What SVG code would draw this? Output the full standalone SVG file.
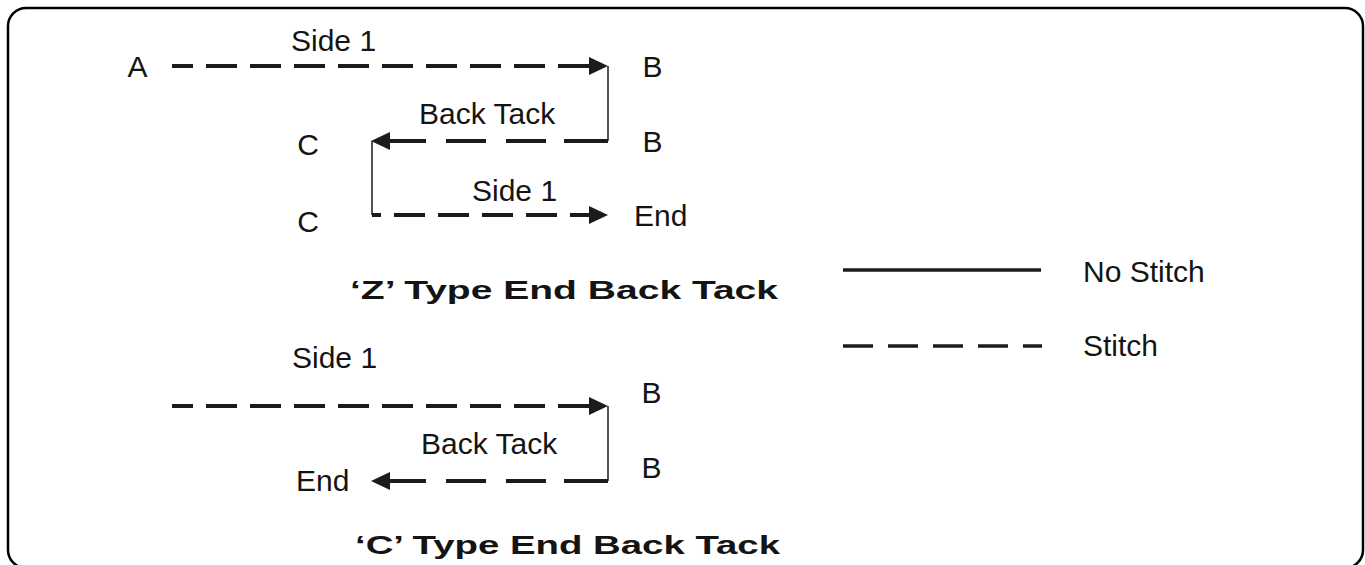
<svg xmlns="http://www.w3.org/2000/svg" width="1365" height="565" viewBox="0 0 1365 565">
<style>
.t{font-family:"Liberation Sans",Arial,sans-serif;font-size:30px;fill:#141414}
.h{font-family:"Liberation Sans",Arial,sans-serif;font-size:26px;font-weight:bold;fill:#141414}
.st{fill:none;stroke:#1e1a1a;stroke-width:4}
.ns{fill:none;stroke:#1e1a1a;stroke-width:1.5}
.lg{fill:none;stroke:#1e1a1a;stroke-width:3.5}
</style>
<defs>
<marker id="ah" viewBox="0 0 19 18" refX="0" refY="9" markerWidth="19" markerHeight="18" markerUnits="userSpaceOnUse" orient="auto">
<path d="M0,0 L19,9 L0,18 Z" fill="#1e1a1a"/>
</marker>
</defs>
<rect id="frame" x="8" y="8" width="1355" height="560" rx="18" ry="18" fill="#fff" stroke="#000" stroke-width="2.5"/>

<g id="connectors">
<!-- Z type -->
<path class="st" d="M172,66 H589" stroke-dasharray="31 13" stroke-dashoffset="10" marker-end="url(#ah)"/>
<path class="ns" d="M608,66 V141"/>
<path class="st" d="M608,141 H390" stroke-dasharray="44 18 40 20 40 20 40" marker-end="url(#ah)"/>
<path class="ns" d="M372,141 V215"/>
<path class="st" d="M372,215 H589" stroke-dasharray="31 13" stroke-dashoffset="22" marker-end="url(#ah)"/>
<!-- C type -->
<path class="st" d="M172,406 H589" stroke-dasharray="31 13" stroke-dashoffset="10" marker-end="url(#ah)"/>
<path class="ns" d="M608,406 V481"/>
<path class="st" d="M608,481 H390" stroke-dasharray="44 18 40 20 40 20 40" marker-end="url(#ah)"/>
<!-- legend -->
<path class="lg" d="M843,270 H1041"/>
<path class="lg" d="M843,346 H1042" stroke-dasharray="30 15"/>
</g>

<g id="node-A"><text class="t" x="137.5" y="77" text-anchor="middle">A</text></g>
<g id="label-side1-top"><text class="t" x="291" y="51">Side 1</text></g>
<g id="node-B1"><text class="t" x="652.5" y="77" text-anchor="middle">B</text></g>
<g id="label-backtack-top"><text class="t" x="419" y="124">Back Tack</text></g>
<g id="node-C1"><text class="t" x="308" y="155" text-anchor="middle">C</text></g>
<g id="node-B2"><text class="t" x="652.5" y="152" text-anchor="middle">B</text></g>
<g id="label-side1-mid"><text class="t" x="472" y="201">Side 1</text></g>
<g id="node-C2"><text class="t" x="308" y="232" text-anchor="middle">C</text></g>
<g id="node-end-top"><text class="t" x="634" y="226">End</text></g>
<g id="title-z"><text class="h" x="350" y="299" textLength="428" lengthAdjust="spacingAndGlyphs">‘Z’ Type End Back Tack</text></g>

<g id="label-side1-low"><text class="t" x="292" y="368">Side 1</text></g>
<g id="node-B3"><text class="t" x="651.5" y="403" text-anchor="middle">B</text></g>
<g id="label-backtack-low"><text class="t" x="421" y="454">Back Tack</text></g>
<g id="node-B4"><text class="t" x="651.5" y="478" text-anchor="middle">B</text></g>
<g id="node-end-low"><text class="t" x="296" y="491">End</text></g>
<g id="title-c"><text class="h" x="355" y="554" textLength="425" lengthAdjust="spacingAndGlyphs">‘C’ Type End Back Tack</text></g>

<g id="legend-nostitch"><text class="t" x="1083" y="282">No Stitch</text></g>
<g id="legend-stitch"><text class="t" x="1083" y="356">Stitch</text></g>
</svg>
